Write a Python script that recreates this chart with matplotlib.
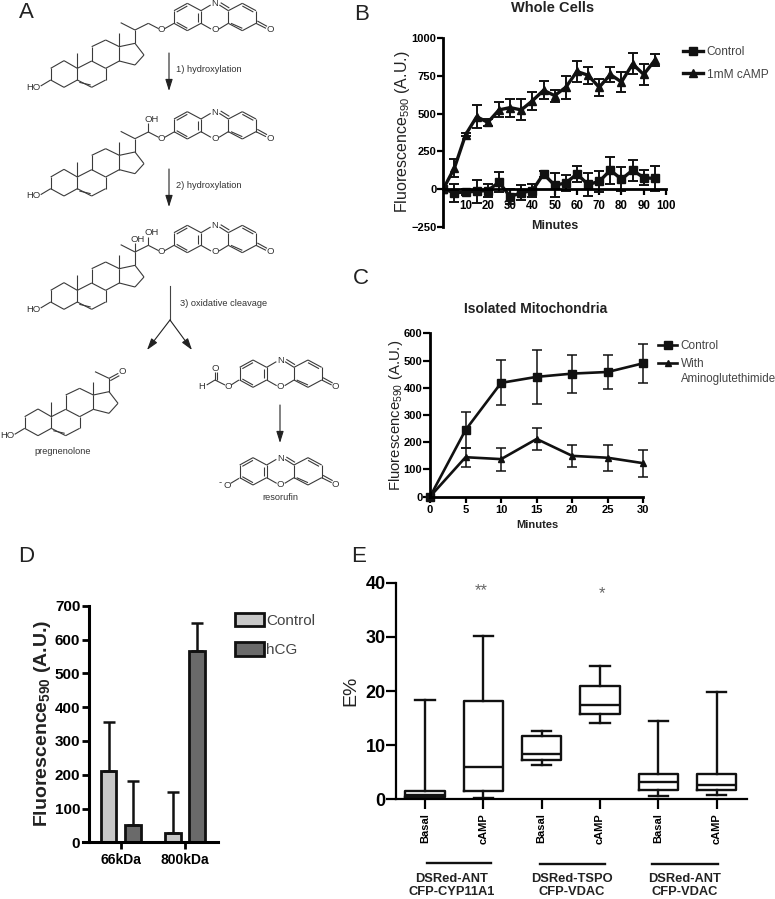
import matplotlib
matplotlib.use('Agg')
import matplotlib.pyplot as plt
from matplotlib.collections import LineCollection
from matplotlib.lines import Line2D
from matplotlib.patches import Patch

plt.rcParams['font.family'] = ['Liberation Sans', 'DejaVu Sans']
plt.rcParams['mathtext.default'] = 'regular'
plt.rcParams['font.weight'] = 'bold'

W, H = 775, 899

# panel B
minutes_b = list(range(0, 100, 5))
b_control = [0, -25, -20, -15, -10, 45, -50, -25, -10, 100, 25, 40, 100, 30, 50, 125, 65, 125, 75, 70]
b_control_err = [0, 60, 20, 75, 45, 65, 50, 50, 45, 20, 80, 50, 55, 75, 70, 90, 80, 70, 50, 80]
b_camp = [0, 140, 360, 480, 442, 525, 540, 525, 585, 655, 620, 675, 780, 755, 675, 760, 710, 830, 760, 855]
b_camp_err = [0, 60, 10, 75, 25, 50, 60, 70, 60, 60, 40, 75, 70, 55, 55, 50, 65, 70, 70, 40]

# panel C
minutes_c = [0, 5, 10, 15, 20, 25, 30]
c_control = [0, 245, 418, 440, 452, 458, 490]
c_control_err = [0, 65, 83, 98, 70, 63, 72]
c_amino = [0, 145, 138, 212, 150, 143, 123]
c_amino_err = [0, 35, 42, 42, 40, 47, 50]

# panel D
d_groups = ['66kDa', '800kDa']
d_control = [210, 28]
d_control_top = [357, 150]
d_hcg = [50, 565]
d_hcg_top = [182, 648]

# panel E: whisker low, q1, median, q3, whisker high
e_labels = ['Basal', 'cAMP', 'Basal', 'cAMP', 'Basal', 'cAMP']
e_low = [0.2, 0.2, 6.4, 14.0, 0.6, 0.8]
e_q1 = [0.5, 1.5, 7.3, 15.8, 1.7, 1.7]
e_med = [0.8, 5.9, 8.4, 17.4, 3.2, 2.6]
e_q3 = [1.6, 18.2, 11.6, 21.0, 4.6, 4.6]
e_high = [18.4, 30.2, 12.6, 24.6, 14.4, 19.8]
e_groups = ['DSRed-ANT\nCFP-CYP11A1', 'DSRed-TSPO\nCFP-VDAC', 'DSRed-ANT\nCFP-VDAC']

fig = plt.figure(figsize=(W / 100, H / 100), dpi=100)


def px_axes(left, top, right, bottom):
    return fig.add_axes([left / W, 1 - bottom / H, (right - left) / W, (bottom - top) / H])


def clean(ax, lw=2):
    ax.spines['top'].set_visible(False)
    ax.spines['right'].set_visible(False)
    ax.spines['left'].set_linewidth(lw)
    ax.spines['bottom'].set_linewidth(lw)
    ax.patch.set_alpha(0)


def line_handle(marker, label, lw=2.4, ms=5.5):
    return Line2D([], [], color='#111111', marker=marker, ms=ms, lw=lw, label=label)


YLAB = 'Fluorescence$_{590}$ (A.U.)'
GREY_TXT = '#444444'

# B
ax = px_axes(443.3, 38.3, 666, 226.7)
clean(ax)
ax.errorbar(minutes_b, b_control, yerr=b_control_err, color='#111111', marker='s', ms=5.5, lw=2.4,
            capsize=3.5, capthick=1.4, elinewidth=1.4)
ax.errorbar(minutes_b, b_camp, yerr=b_camp_err, color='#111111', marker='^', ms=5.5, lw=2.4,
            capsize=3.5, capthick=1.4, elinewidth=1.4)
ax.set_xlim(0, 100)
ax.set_ylim(-250, 1000)
ax.spines['bottom'].set_position(('data', 0))
ax.set_xticks(range(10, 101, 10))
ax.set_yticks([-250, 0, 250, 500, 750, 1000])
ax.tick_params(axis='y', labelsize=8, width=1.6, length=4, pad=1)
ax.tick_params(axis='x', labelsize=8.3, width=1.6, length=4, pad=4)
ax.legend(handles=[line_handle('s', 'Control'), line_handle('^', '1mM cAMP')],
          loc='upper left', bbox_to_anchor=(1.075, 0.96), frameon=False, handlelength=1.7,
          handletextpad=0.3, labelspacing=0.9, borderpad=0, borderaxespad=0, labelcolor=GREY_TXT,
          prop={'weight': 'normal', 'size': 8.6})

# C
ax = px_axes(430, 333.3, 643.3, 496.7)
clean(ax)
ax.errorbar(minutes_c, c_control, yerr=c_control_err, color='#111111', marker='s', ms=5.5, lw=1.9,
            capsize=3.5, capthick=1.1, elinewidth=1.1)
ax.errorbar(minutes_c, c_amino, yerr=c_amino_err, color='#111111', marker='^', ms=5, lw=1.9,
            capsize=3.5, capthick=1.1, elinewidth=1.1)
ax.set_xlim(0, 30)
ax.set_ylim(0, 600)
ax.set_xticks(minutes_c)
ax.set_yticks(range(0, 601, 100))
ax.tick_params(axis='y', labelsize=8, width=1.6, length=5, pad=0.5)
ax.tick_params(axis='x', labelsize=8, width=1.6, length=4, pad=2)
for a in ax.collections + ax.lines:
    a.set_clip_on(False)
ax.legend(handles=[line_handle('s', 'Control', 1.9), line_handle('^', 'With', 1.9, 5)],
          loc='upper left', bbox_to_anchor=(1.07, 0.96), frameon=False, handlelength=1.6,
          handletextpad=0.3, labelspacing=0.55, borderpad=0, borderaxespad=0, labelcolor=GREY_TXT,
          prop={'weight': 'normal', 'size': 8.5})

# D
ax = px_axes(83, 605.7, 218, 842.3)
clean(ax, 2.2)
off = 0.187
xs = [0, 1]
ax.bar([x - off for x in xs], d_control, 0.243, color='#c8c8c8', edgecolor='#111111', linewidth=2)
ax.bar([x + off for x in xs], d_hcg, 0.243, color='#6a6a6a', edgecolor='#111111', linewidth=2)
ax.errorbar([x - off for x in xs], d_control, yerr=[[0, 0], [t - v for t, v in zip(d_control_top, d_control)]],
            fmt='none', ecolor='#111111', elinewidth=1.8, capsize=4, capthick=1.8)
ax.errorbar([x + off for x in xs], d_hcg, yerr=[[0, 0], [t - v for t, v in zip(d_hcg_top, d_hcg)]],
            fmt='none', ecolor='#111111', elinewidth=1.8, capsize=4, capthick=1.8)
ax.set_xlim(-0.586, 1.513)
ax.set_ylim(0, 700)
ax.spines['left'].set_position(('data', -0.488))
ax.set_xticks(xs)
ax.set_xticklabels(d_groups)
ax.set_yticks(range(0, 701, 100))
ax.tick_params(axis='y', labelsize=11, width=2, length=5, pad=1.5)
ax.tick_params(axis='x', labelsize=10, width=2, length=5, pad=3)
ax.legend(handles=[Patch(facecolor='#c8c8c8', edgecolor='#111111', linewidth=2, label='Control'),
                   Patch(facecolor='#6a6a6a', edgecolor='#111111', linewidth=2, label='hCG')],
          loc='upper left', bbox_to_anchor=(1.125, 0.97), frameon=False, handlelength=1.9, handleheight=1.0,
          handletextpad=0.15, labelspacing=0.95, borderpad=0, borderaxespad=0, labelcolor=GREY_TXT,
          prop={'weight': 'normal', 'size': 11})

# E
ax = px_axes(396, 582.7, 746.7, 799.3)
clean(ax, 1.6)
stats = [{'whislo': l, 'q1': a, 'med': m, 'q3': b, 'whishi': h, 'fliers': []}
         for l, a, m, b, h in zip(e_low, e_q1, e_med, e_q3, e_high)]
line = {'color': '#111111', 'linewidth': 1.7}
ax.bxp(stats, positions=range(1, 7), widths=0.67, showfliers=False, boxprops=line, whiskerprops=line,
       capprops=line, medianprops=line, manage_ticks=False)
ax.set_xlim(0.503, 6.515)
ax.set_ylim(0, 40)
ax.set_xticks(range(1, 7))
ax.set_xticklabels(e_labels, rotation=90, fontsize=8)
ax.set_yticks([0, 10, 20, 30, 40])
ax.tick_params(axis='y', labelsize=13, width=1.6, length=7, pad=0.5)
ax.tick_params(axis='x', width=1.6, length=7, pad=3)

# overlay in pixels for the scheme and free text
ov = fig.add_axes([0, 0, 1, 1])
ov.set_xlim(0, W)
ov.set_ylim(H, 0)
ov.axis('off')
ov.patch.set_alpha(0)

ov.text(555, 226, 'Minutes', fontsize=9, ha='center', va='center', color='#222222')
ov.text(553, 8, 'Whole Cells', fontsize=10.5, ha='center', va='center', color='#222222')
ov.text(536, 309, 'Isolated Mitochondria', fontsize=10, ha='center', va='center', color='#222222')
ov.text(537, 525, 'Minutes', fontsize=8, ha='center', va='center', color='#222222')
ov.text(402, 132, YLAB, fontsize=11.5, rotation=90, ha='center', va='center', color='#222222',
        fontweight='normal')
ov.text(396, 415, YLAB, fontsize=10.7, rotation=90, ha='center', va='center', color='#222222',
        fontweight='normal')
ov.text(43, 723, YLAB, fontsize=14, rotation=90, ha='center', va='center', color='#222222')
ov.text(351, 691, 'E%', fontsize=14, rotation=90, ha='center', va='center', color='#222222',
        fontweight='normal')
ov.text(481, 591, '**', fontsize=12, ha='center', va='center', color='#666666', fontweight='normal')
ov.text(601.7, 594, '*', fontsize=12, ha='center', va='center', color='#666666', fontweight='normal')
# second line of the panel C legend entry
ov.text(680.5, 379, 'Aminoglutethimide', fontsize=8.3, ha='left', va='center', color=GREY_TXT,
        fontweight='normal')

for x0, x1, y in [(426.7, 490.7, 862.7), (540, 605, 864.3), (651.7, 718.3, 864.3)]:
    ov.plot([x0, x1], [y, y], color='#111111', lw=1.7)
for cx, txt in zip([451.7, 571.7, 684.3], e_groups):
    ov.text(cx, 885.5, txt, fontsize=9.3, ha='center', va='center', color='#222222', linespacing=1.2)

for lab, x, y in [('A', 26, 13), ('B', 362, 14), ('C', 361, 279), ('D', 26, 556), ('E', 359, 556)]:
    ov.text(x, y, lab, fontsize=16, ha='center', va='center', fontweight='normal', color='#222222')

# chemical scheme, coordinates in 3x crop units of the first structures
STEROID = [((152, 205), (192, 182)), ((192, 182), (232, 205)), ((232, 205), (232, 240)), ((232, 240), (192, 262)),
           ((192, 262), (152, 240)), ((152, 240), (152, 205)), ((232, 205), (275, 183)), ((275, 183), (317, 205)),
           ((317, 205), (317, 240)), ((317, 240), (275, 262)), ((275, 262), (232, 240)), ((238, 247), (272, 255)),
           ((275, 183), (275, 140)), ((275, 140), (317, 120)), ((317, 120), (358, 140)), ((358, 140), (358, 183)),
           ((358, 183), (317, 205)), ((358, 140), (405, 130)), ((405, 130), (432, 165)), ((432, 165), (405, 195)),
           ((405, 195), (358, 183)), ((232, 205), (232, 160)), ((358, 140), (358, 100)), ((152, 240), (122, 258))]
RINGS = [((522, 32), (562, 10)), ((562, 10), (603, 32)), ((603, 32), (603, 70)), ((603, 70), (562, 92)),
         ((562, 92), (522, 70)), ((522, 70), (522, 32)), ((530, 36), (562, 18)), ((595, 38), (595, 65)),
         ((530, 67), (562, 85)), ((603, 32), (632, 15)), ((658, 15), (685, 32)), ((662, 8), (688, 24)),
         ((603, 70), (633, 87)), ((657, 87), (685, 70)), ((685, 32), (727, 10)), ((727, 10), (768, 32)),
         ((768, 32), (768, 70)), ((768, 70), (727, 92)), ((727, 92), (685, 70)), ((685, 70), (685, 32)),
         ((727, 18), (760, 36)), ((693, 70), (727, 85)), ((768, 70), (798, 85)), ((772, 63), (801, 79))]


def draw_bonds(bonds, dx=0, dy=0):
    segs = [[((x0 + dx) / 3, (y0 + dy) / 3), ((x1 + dx) / 3, (y1 + dy) / 3)] for (x0, y0), (x1, y1) in bonds]
    ov.add_collection(LineCollection(segs, colors='#3a3a3a', linewidths=0.8))


def atom(label, x, y):
    ov.text(x / 3, y / 3, label, fontsize=6.8, ha='center', va='center', color='#333333', fontweight='normal')


def rings(dx=0, dy=0):
    draw_bonds(RINGS, dx, dy)
    atom('N', 645 + dx, 12 + dy)
    atom('O', 645 + dx, 90 + dy)
    atom('O', 810 + dx, 90 + dy)


def steroid(dx=0, dy=0):
    draw_bonds(STEROID, dx, dy)
    atom('HO', 100 + dx, 262 + dy)


for dy in [0, 326, 666]:
    steroid(0, dy)
    rings(0, dy if dy != 326 else 325)
    draw_bonds([((405, 130), (405, 90)), ((405, 90), (362, 68)), ((405, 90), (445, 70)), ((445, 70), (476, 86)),
                ((494, 86), (522, 70))], 0, dy)
    atom('O', 485, 90 + dy)
draw_bonds([((445, 396), (445, 370))])
atom('OH', 455, 357)
draw_bonds([((445, 736), (445, 710)), ((405, 756), (405, 728))])
atom('OH', 455, 698)
atom('OH', 412, 718)

# pregnenolone
steroid(-78, 1045)
draw_bonds([((327, 1175), (327, 1135)), ((327, 1135), (285, 1115)), ((327, 1135), (355, 1120)), ((331, 1142), (358, 1127))])
atom('O', 366, 1115)
ov.text(63, 451, 'pregnenolone', fontsize=6.6, ha='center', va='center', color='#333333', fontweight='normal')

# formate ester and resorufin
rings(197, 1070)
draw_bonds([((717, 1140), (693, 1155)), ((675, 1155), (645, 1140)), ((645, 1140), (620, 1155)),
            ((645, 1140), (645, 1115)), ((652, 1140), (652, 1115))])
atom('O', 685, 1160)
atom('O', 645, 1105)
atom('H', 606, 1160)
rings(197, 1363)
draw_bonds([((717, 1435), (692, 1450))])
atom('O', 682, 1455)
atom('-', 660, 1447)
ov.text(280, 498, 'resorufin', fontsize=6.6, ha='center', va='center', color='#333333', fontweight='normal')

# arrows
for (x0, y0), (x1, y1) in [((169, 53), (169, 91)), ((169, 169), (169, 207)), ((170, 320), (147, 350)),
                           ((170, 320), (192, 350)), ((280, 405), (280, 443))]:
    ov.annotate('', xy=(x1, y1), xytext=(x0, y0),
                arrowprops=dict(arrowstyle='-|>,head_length=0.7,head_width=0.22', color='#222222', lw=0.8,
                                shrinkA=0, shrinkB=0))
ov.plot([170, 170], [286, 320], color='#444444', lw=0.8)
for txt, x, y in [('1) hydroxylation', 176, 70), ('2) hydroxylation', 176, 185), ('3) oxidative cleavage', 180, 304)]:
    ov.text(x, y, txt, fontsize=6.7, ha='left', va='center', color='#333333', fontweight='normal')

fig.savefig('out.png', dpi=100)
